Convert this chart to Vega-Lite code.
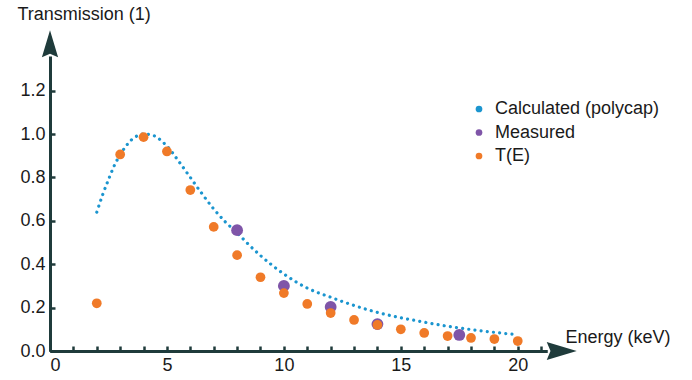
{
  "$schema": "https://vega.github.io/schema/vega-lite/v6.json",
  "width": 497,
  "height": 295,
  "autosize": {"type": "none"},
  "padding": {"left": 50, "top": 56, "right": 145, "bottom": 29},
  "config": {
    "view": {"stroke": null},
    "font": "Liberation Sans",
    "axis": {
      "grid": false,
      "domainColor": "#1f3b3b",
      "domainWidth": 3,
      "tickColor": "#1f3b3b",
      "tickWidth": 2.5,
      "tickSize": -5,
      "labelOverlap": false,
      "labelFont": "Liberation Sans",
      "labelFontSize": 18,
      "labelColor": "#1a1a1a",
      "titleFont": "Liberation Sans",
      "titleFontSize": 18,
      "titleFontWeight": "normal",
      "titleColor": "#1a1a1a"
    },
    "legend": {
      "labelFont": "Liberation Sans",
      "labelFontSize": 18,
      "labelColor": "#1a1a1a",
      "labelLimit": 0
    }
  },
  "datasets": {
    "calc": [
      {"energy": 2.0, "t": 0.64}, {"energy": 2.25, "t": 0.72}, {"energy": 2.5, "t": 0.79},
      {"energy": 2.75, "t": 0.855}, {"energy": 3.0, "t": 0.905}, {"energy": 3.25, "t": 0.945},
      {"energy": 3.5, "t": 0.975}, {"energy": 3.75, "t": 0.993}, {"energy": 4.0, "t": 1.0},
      {"energy": 4.25, "t": 0.998}, {"energy": 4.5, "t": 0.99}, {"energy": 4.75, "t": 0.97},
      {"energy": 5.0, "t": 0.945}, {"energy": 5.5, "t": 0.875}, {"energy": 6.0, "t": 0.8},
      {"energy": 6.5, "t": 0.725}, {"energy": 7.0, "t": 0.655}, {"energy": 7.5, "t": 0.595},
      {"energy": 8.0, "t": 0.545}, {"energy": 8.5, "t": 0.49}, {"energy": 9.0, "t": 0.44},
      {"energy": 9.5, "t": 0.395}, {"energy": 10.0, "t": 0.355}, {"energy": 10.5, "t": 0.32},
      {"energy": 11.0, "t": 0.29}, {"energy": 11.5, "t": 0.267}, {"energy": 12.0, "t": 0.248},
      {"energy": 12.5, "t": 0.228}, {"energy": 13.0, "t": 0.21}, {"energy": 13.5, "t": 0.193},
      {"energy": 14.0, "t": 0.178}, {"energy": 14.5, "t": 0.165}, {"energy": 15.0, "t": 0.153},
      {"energy": 15.5, "t": 0.143}, {"energy": 16.0, "t": 0.133}, {"energy": 16.5, "t": 0.123},
      {"energy": 17.0, "t": 0.114}, {"energy": 17.5, "t": 0.106}, {"energy": 18.0, "t": 0.099},
      {"energy": 18.5, "t": 0.092}, {"energy": 19.0, "t": 0.086}, {"energy": 19.5, "t": 0.08},
      {"energy": 20.0, "t": 0.075}
    ],
    "measured": [
      {"energy": 8, "t": 0.557, "series": "Measured"},
      {"energy": 10, "t": 0.30, "series": "Measured"},
      {"energy": 12, "t": 0.203, "series": "Measured"},
      {"energy": 14, "t": 0.124, "series": "Measured"},
      {"energy": 17.5, "t": 0.074, "series": "Measured"}
    ],
    "te": [
      {"energy": 2, "t": 0.22, "series": "T(E)"},
      {"energy": 3, "t": 0.906, "series": "T(E)"},
      {"energy": 4, "t": 0.986, "series": "T(E)"},
      {"energy": 5, "t": 0.92, "series": "T(E)"},
      {"energy": 6, "t": 0.742, "series": "T(E)"},
      {"energy": 7, "t": 0.572, "series": "T(E)"},
      {"energy": 8, "t": 0.442, "series": "T(E)"},
      {"energy": 9, "t": 0.34, "series": "T(E)"},
      {"energy": 10, "t": 0.267, "series": "T(E)"},
      {"energy": 11, "t": 0.217, "series": "T(E)"},
      {"energy": 12, "t": 0.175, "series": "T(E)"},
      {"energy": 13, "t": 0.143, "series": "T(E)"},
      {"energy": 14, "t": 0.12, "series": "T(E)"},
      {"energy": 15, "t": 0.1, "series": "T(E)"},
      {"energy": 16, "t": 0.083, "series": "T(E)"},
      {"energy": 17, "t": 0.069, "series": "T(E)"},
      {"energy": 18, "t": 0.06, "series": "T(E)"},
      {"energy": 19, "t": 0.055, "series": "T(E)"},
      {"energy": 20, "t": 0.046, "series": "T(E)"}
    ],
    "xarrow": [{"energy": 21.88, "t": 0}],
    "yarrow": [{"energy": 0, "t": 1.417}]
  },
  "resolve": {"axis": {"x": "independent"}},
  "layer": [
    {
      "data": {"name": "calc"},
      "mark": {"type": "line", "color": "#1b95cf", "strokeWidth": 3.2, "strokeDash": [0.01, 6.2], "strokeCap": "round", "interpolate": "monotone"},
      "encoding": {
        "x": {
          "field": "energy", "type": "quantitative",
          "scale": {"domain": [0, 21.25], "nice": false, "zero": false},
          "axis": {
            "orient": "bottom",
            "values": [0, 5, 10, 15, 20],
            "format": "d",
            "labelOverlap": false,
            "labelPadding": 10,
            "title": "Energy (keV)",
            "titleX": 515, "titleY": -9, "titleAlign": "left", "titleBaseline": "alphabetic", "titleAnchor": null
          }
        },
        "y": {
          "field": "t", "type": "quantitative",
          "scale": {"domain": [0, 1.36], "nice": false, "zero": false},
          "axis": {
            "values": [0,0.05,0.1,0.15,0.2,0.25,0.3,0.35,0.4,0.45,0.5,0.55,0.6,0.65,0.7,0.75,0.8,0.85,0.9,0.95,1.0,1.05,1.1,1.15,1.2,1.25,1.3,1.35],
            "labelExpr": "round(datum.value*100) % 20 === 0 ? format(datum.value, '.1f') : ''",
            "labelOverlap": false,
            "labelPadding": 10,
            "title": "Transmission (1)",
            "titleAngle": 0, "titleX": -33, "titleY": -37, "titleAlign": "left", "titleBaseline": "alphabetic", "titleAnchor": null
          }
        }
      }
    },
    {
      "data": {"name": "measured"},
      "mark": {"type": "point", "filled": true, "opacity": 1, "size": 140, "shape": "circle"},
      "encoding": {
        "x": {
          "field": "energy", "type": "quantitative",
          "axis": {
            "orient": "bottom",
            "values": [0,1,2,3,4,6,7,8,9,11,12,13,14,16,17,18,19,21],
            "labels": false,
            "title": null
          }
        },
        "y": {"field": "t", "type": "quantitative"},
        "color": {
          "field": "series", "type": "nominal",
          "scale": {"domain": ["Calculated (polycap)", "Measured", "T(E)"], "range": ["#1b95cf", "#7f55a8", "#f07a28"]},
          "legend": {"title": null, "orient": "none", "legendX": 420, "legendY": 44, "symbolType": "circle", "symbolSize": 45, "symbolStrokeWidth": 0, "labelOffset": 7, "rowPadding": 5.5, "padding": 0}
        }
      }
    },
    {
      "data": {"name": "te"},
      "mark": {"type": "point", "filled": true, "opacity": 1, "size": 95, "shape": "circle"},
      "encoding": {
        "x": {"field": "energy", "type": "quantitative", "axis": null},
        "y": {"field": "t", "type": "quantitative"},
        "color": {"field": "series", "type": "nominal"}
      }
    },
    {
      "data": {"name": "xarrow"},
      "mark": {"type": "point", "filled": true, "opacity": 1, "size": 900, "color": "#1f3b3b", "shape": "M1,0 L-1,-0.6 L-0.75,0 L-1,0.6 Z"},
      "encoding": {
        "x": {"field": "energy", "type": "quantitative", "axis": null},
        "y": {"field": "t", "type": "quantitative"}
      }
    },
    {
      "data": {"name": "yarrow"},
      "mark": {"type": "point", "filled": true, "opacity": 1, "size": 729, "color": "#1f3b3b", "shape": "M0,-1 L-0.6,1 L0,0.75 L0.6,1 Z"},
      "encoding": {
        "x": {"field": "energy", "type": "quantitative", "axis": null},
        "y": {"field": "t", "type": "quantitative"}
      }
    }
  ]
}
